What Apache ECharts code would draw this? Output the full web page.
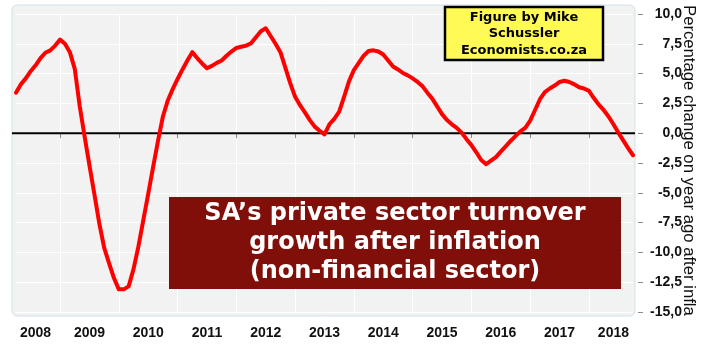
<!DOCTYPE html>
<html>
<head>
<meta charset="utf-8">
<script src="https://cdn.jsdelivr.net/npm/echarts@6/dist/echarts.min.js"></script>
<style>
  html, body { margin: 0; padding: 0; background: #ffffff; }
  #chart { width: 710px; height: 347px; }
</style>
</head>
<body>
<div id="chart"></div>
<script>
// Real private-sector turnover growth, % y/y, monthly from April 2008 to October 2018
const firstYear = 2008;
const firstMonth = 4;
const growth = [
  3.4, 4.1, 4.6, 5.2, 5.7, 6.3, 6.75, 6.95, 7.35,
  7.85, 7.5, 6.8, 5.4, 2.3, -0.25, -2.7, -5.1, -7.55, -9.6, -10.9, -12.15,
  -13.1, -13.1, -12.85, -11.4, -9.5, -7.3, -5.1, -2.85, -0.65, 1.4, 2.75, 3.7,
  4.55, 5.35, 6.1, 6.8, 6.3, 5.85, 5.45, 5.65, 5.9, 6.1, 6.5, 6.85,
  7.15, 7.25, 7.35, 7.55, 8.05, 8.55, 8.8, 8.15, 7.5, 6.8, 5.5, 4.2,
  3.05, 2.35, 1.75, 1.1, 0.55, 0.2, -0.1, 0.75, 1.2, 1.8, 3.05, 4.35,
  5.3, 5.9, 6.5, 6.9, 6.95, 6.85, 6.6, 6.1, 5.6, 5.35, 5.05, 4.85,
  4.6, 4.3, 3.95, 3.4, 2.9, 2.25, 1.6, 1.1, 0.75, 0.45, 0.05, -0.5,
  -1.0, -1.6, -2.25, -2.6, -2.3, -2.0, -1.55, -1.1, -0.65, -0.25, 0.15, 0.45,
  1.05, 1.95, 2.85, 3.45, 3.75, 4.0, 4.3, 4.4, 4.3, 4.1, 3.85, 3.75,
  3.55, 2.95, 2.4, 1.95, 1.4, 0.75, 0.05, -0.6, -1.25, -1.85
];

// Month keys "YYYY-MM" for the category axis
const months = growth.map((_, i) => {
  const t = firstMonth - 1 + i;
  return (firstYear + Math.floor(t / 12)) + '-' + String(t % 12 + 1).padStart(2, '0');
});

// Where each year label sits (middle of the visible part of that year)
const yearLabelMonths = ['2008-08', '2009-07', '2010-07', '2011-07', '2012-07', '2013-07',
                         '2014-07', '2015-07', '2016-07', '2017-07', '2018-06'];

const yMin = -15, yMax = 10, yStep = 2.5;
const axisName = 'Percentage change on year ago after inflation';
const titleLines = ['SA\u2019s private sector turnover', 'growth after inflation', '(non-financial sector)'];
const creditLines = ['Figure by Mike', 'Schussler', 'Economists.co.za'];

const chart = echarts.init(document.getElementById('chart'), null, { renderer: 'canvas' });

const isJanuary = (i, v) => v.endsWith('-01');

chart.setOption({
  animation: false,
  backgroundColor: '#ffffff',
  grid: { left: 16, right: 77, top: 14, bottom: 35, containLabel: false, outerBoundsMode: 'none' },
  xAxis: {
    type: 'category',
    data: months,
    boundaryGap: false,
    offset: 4,
    axisLine: { show: false },
    axisTick: { show: true, interval: isJanuary, length: 5, lineStyle: { color: '#8a8a8a', width: 1 } },
    splitLine: { show: true, interval: isJanuary, lineStyle: { color: '#ffffff', width: 1 } },
    axisLabel: {
      interval: (i, v) => yearLabelMonths.includes(v),
      formatter: v => v.slice(0, 4),
      margin: 10,
      color: '#111111',
      fontFamily: 'Liberation Sans, Arial, sans-serif',
      fontWeight: 'bold',
      fontSize: 14
    }
  },
  yAxis: {
    type: 'value',
    position: 'right',
    offset: 5,
    min: yMin,
    max: yMax,
    interval: yStep,
    axisLine: { show: false },
    axisTick: { show: true, length: 5, lineStyle: { color: '#8a8a8a', width: 1 } },
    splitLine: { show: true, lineStyle: { color: '#ffffff', width: 1 } },
    axisLabel: {
      align: 'right',
      margin: 44,
      formatter: v => v.toFixed(1).replace('.', ','),
      color: '#111111',
      fontFamily: 'Liberation Sans, Arial, sans-serif',
      fontWeight: 'bold',
      fontSize: 14
    }
  },
  series: [{
    type: 'line',
    data: growth,
    showSymbol: false,
    smooth: false,
    lineStyle: { color: '#ff0000', width: 4, cap: 'round', join: 'round' },
    z: 3
  }]
});

// Panel frame, zero line and the two text boxes
const y0 = chart.convertToPixel({ yAxisIndex: 0 }, 0);

chart.setOption({
  graphic: [
    {
      type: 'rect', z: -10, silent: true,
      shape: { x: 12, y: 5, width: 623, height: 311, r: 5 },
      style: { fill: '#f2f2f2', stroke: '#cfe3ea', lineWidth: 1 }
    },
    {
      type: 'line', z: 2, silent: true,
      shape: { x1: 12, y1: y0, x2: 635, y2: y0 },
      style: { stroke: '#000000', lineWidth: 2 }
    },
    {
      type: 'text', silent: true, z: 5,
      x: 689, y: 5, rotation: -Math.PI / 2,
      style: {
        text: axisName, width: 313, overflow: 'truncate', ellipsis: '',
        fill: '#111111', font: '16.7px "Liberation Sans", Arial, sans-serif',
        align: 'left', verticalAlign: 'middle'
      }
    },
    {
      type: 'rect', z: 20, silent: true,
      shape: { x: 169, y: 197, width: 452, height: 92 },
      style: { fill: '#800e09' }
    },
    {
      type: 'text', z: 21, silent: true,
      x: 395, y: 243,
      style: {
        text: titleLines.join('\n'),
        fill: '#ffffff', font: 'bold 24px "DejaVu Sans", Verdana, sans-serif',
        lineHeight: 29, align: 'center', verticalAlign: 'middle'
      }
    },
    {
      type: 'rect', z: 20, silent: true,
      shape: { x: 445, y: 7, width: 158, height: 53 },
      style: { fill: '#fffa55', stroke: '#000000', lineWidth: 2.5 }
    },
    {
      type: 'text', z: 21, silent: true,
      x: 524, y: 34,
      style: {
        text: creditLines.join('\n'),
        fill: '#000000', font: 'bold 13px "DejaVu Sans", Verdana, sans-serif',
        lineHeight: 16.5, align: 'center', verticalAlign: 'middle'
      }
    }
  ]
});
</script>
</body>
</html>
